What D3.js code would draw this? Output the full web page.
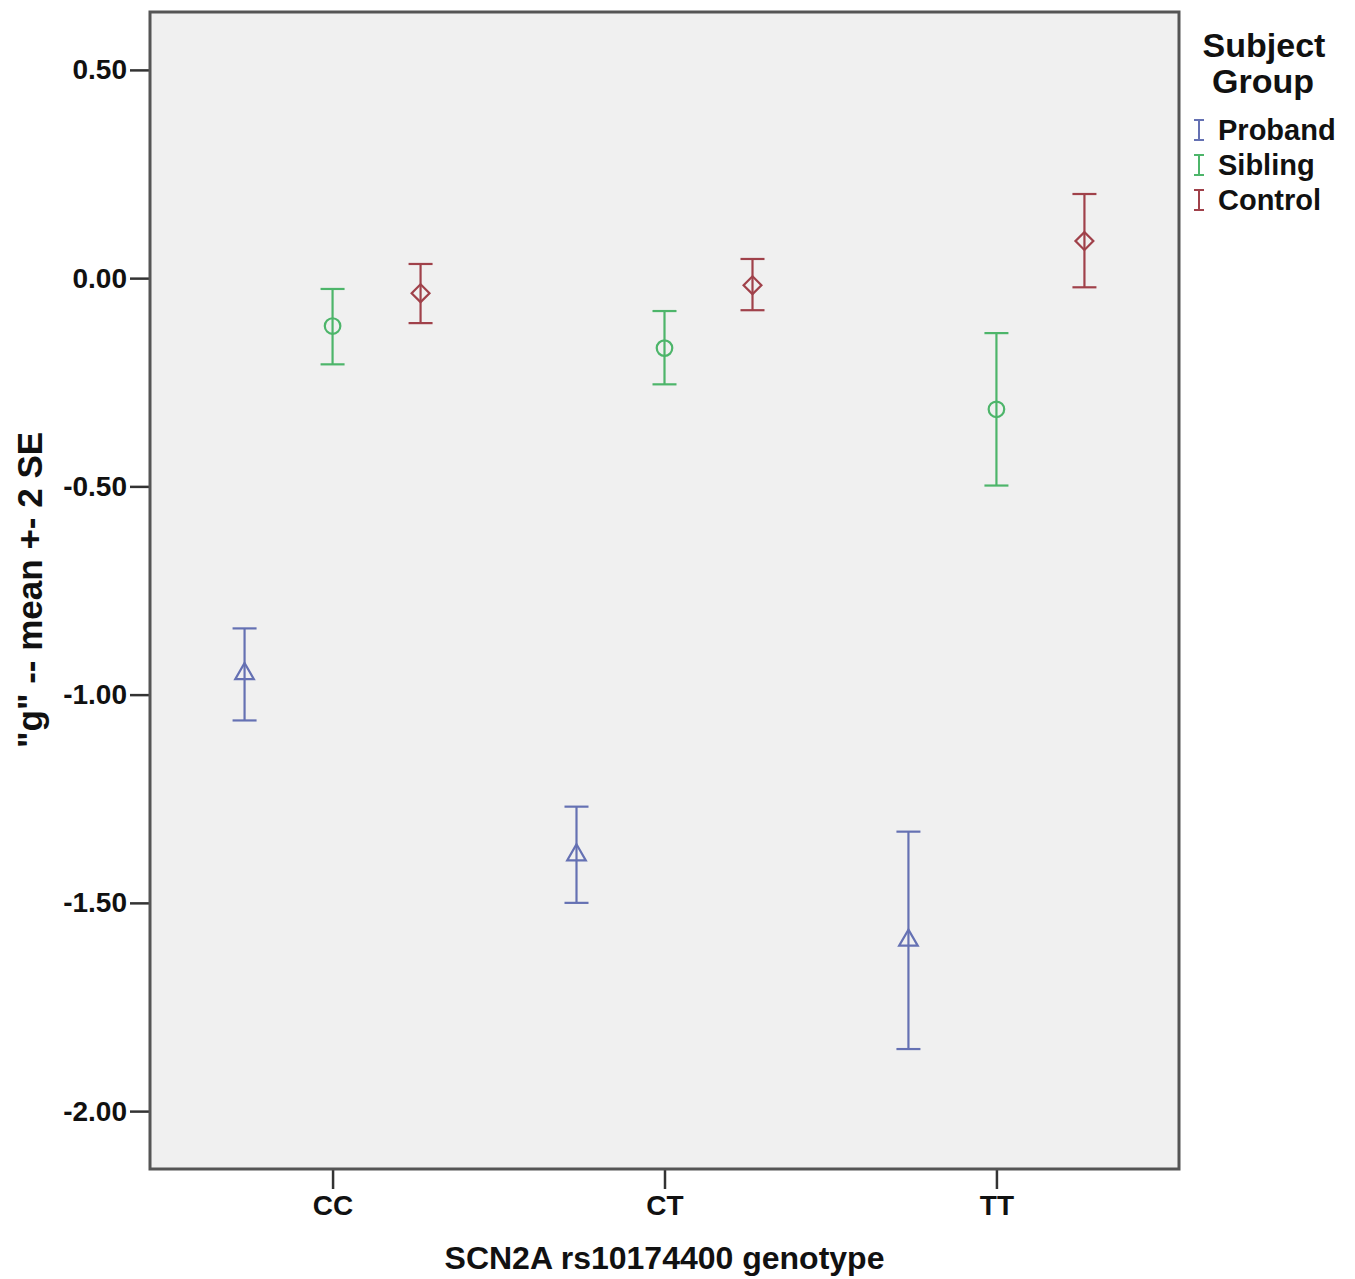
<!DOCTYPE html>
<html>
<head>
<meta charset="utf-8">
<script src="https://cdn.jsdelivr.net/npm/d3@7"></script>
<style>
  body { margin: 0; background: #fff; }
  text { font-family: "Liberation Sans", Arial, sans-serif; font-weight: bold; fill: #111; }
</style>
</head>
<body>
<div id="chart"></div>
<script>
// genotypes on the x axis, subject groups inside each genotype
const genotypes = ["CC", "CT", "TT"]
const groups = ["Proband", "Sibling", "Control"]

// mean and mean +- 2 SE (order follows genotypes)
const probandMean = [-0.95, -1.385, -1.59]
const probandLow = [-1.062, -1.50, -1.851]
const probandHigh = [-0.841, -1.269, -1.329]

const siblingMean = [-0.115, -0.168, -0.315]
const siblingLow = [-0.207, -0.255, -0.498]
const siblingHigh = [-0.026, -0.079, -0.132]

const controlMean = [-0.036, -0.017, 0.089]
const controlLow = [-0.108, -0.077, -0.022]
const controlHigh = [0.034, 0.046, 0.202]

const yTicks = [0.5, 0, -0.5, -1, -1.5, -2]

// table built from the arrays above
let points = []
const series = {
    Proband: [probandMean, probandLow, probandHigh],
    Sibling: [siblingMean, siblingLow, siblingHigh],
    Control: [controlMean, controlLow, controlHigh]
}
groups.forEach(g => {
    genotypes.forEach((gt, i) => {
        points.push({ group: g, genotype: gt, mean: series[g][0][i], low: series[g][1][i], high: series[g][2][i] })
    })
})

let width = 1355, height = 1279
let margin = { left: 150, top: 12, right: 176, bottom: 110 }
let plotW = width - margin.left - margin.right
let plotH = height - margin.top - margin.bottom

let color = d3.scaleOrdinal().domain(groups).range(["#6571b3", "#4db56a", "#a0414a"])

let svg = d3.select("#chart").append("svg")
    .attr("width", width)
    .attr("height", height)

let xScale = d3.scalePoint()
    .domain(genotypes)
    .range([0, plotW])
    .padding(0.55)

let offset = d3.scalePoint()
    .domain(groups)
    .range([-88, 88])

let yScale = d3.scaleLinear()
    .domain([-2.139, 0.639])
    .range([plotH, 0])

let g = svg.append("g")
    .attr("transform", `translate(${margin.left},${margin.top})`)

// plot background
g.append("rect")
    .attr("width", plotW)
    .attr("height", plotH)
    .attr("fill", "#f0f0f0")

// axes
let yAxis = d3.axisLeft(yScale)
    .tickValues(yTicks)
    .tickSize(20)
    .tickSizeOuter(0)
    .tickPadding(3)
    .tickFormat(d => d.toFixed(2))

let xAxis = d3.axisBottom(xScale)
    .tickSize(20)
    .tickSizeOuter(0)
    .tickPadding(6)

let yg = g.append("g").call(yAxis)
let xg = g.append("g").attr("transform", `translate(0,${plotH})`).call(xAxis)

;[yg, xg].forEach(a => {
    a.select(".domain").remove()
    a.selectAll(".tick line").attr("stroke", "#333").attr("stroke-width", 2.5)
    a.selectAll(".tick text").style("font-size", "28px").attr("fill", "#111")
})

// frame
g.append("rect")
    .attr("width", plotW)
    .attr("height", plotH)
    .attr("fill", "none")
    .attr("stroke", "#555")
    .attr("stroke-width", 3)

// error bars
let bars = g.append("g").selectAll("g")
    .data(points).enter()
    .append("g")
    .attr("transform", d => `translate(${xScale(d.genotype) + offset(d.group)},0)`)
    .attr("stroke", d => color(d.group))
    .attr("stroke-width", 2.2)
    .attr("fill", "none")

bars.append("line")
    .attr("y1", d => yScale(d.low))
    .attr("y2", d => yScale(d.high))

bars.append("line")
    .attr("x1", -12).attr("x2", 12)
    .attr("y1", d => yScale(d.high)).attr("y2", d => yScale(d.high))

bars.append("line")
    .attr("x1", -12).attr("x2", 12)
    .attr("y1", d => yScale(d.low)).attr("y2", d => yScale(d.low))

// hollow markers: triangle, circle, diamond
let shapes = { Proband: d3.symbolTriangle, Sibling: d3.symbolCircle, Control: d3.symbolSquare }
let sizes = { Proband: 150, Sibling: 190, Control: 160 }

bars.append("path")
    .attr("d", d => d3.symbol().type(shapes[d.group]).size(sizes[d.group])())
    .attr("transform", d => `translate(0,${yScale(d.mean)})` + (d.group == "Control" ? " rotate(45)" : ""))

// axis titles
svg.append("text")
    .attr("text-anchor", "middle")
    .attr("x", margin.left + xScale("CT"))
    .attr("y", 1269)
    .style("font-size", "32px")
    .text("SCN2A rs10174400 genotype")

svg.append("text")
    .attr("text-anchor", "middle")
    .attr("transform", "translate(42,590) rotate(-90)")
    .style("font-size", "35px")
    .text('"g" -- mean +- 2 SE')

// legend
let legend = svg.append("g").attr("transform", "translate(1195,0)")

legend.append("text")
    .attr("text-anchor", "middle")
    .attr("x", 69).attr("y", 57)
    .style("font-size", "34px")
    .text("Subject")

legend.append("text")
    .attr("text-anchor", "middle")
    .attr("x", 68).attr("y", 93)
    .style("font-size", "34px")
    .text("Group")

let items = legend.selectAll(".item")
    .data(groups).enter()
    .append("g")
    .attr("class", "item")
    .attr("transform", (d, i) => `translate(0,${130 + i * 35})`)

items.append("line")
    .attr("x1", 4).attr("x2", 4).attr("y1", -10).attr("y2", 10)
    .attr("stroke", d => color(d)).attr("stroke-width", 2)
items.append("line")
    .attr("x1", -1).attr("x2", 9).attr("y1", -10).attr("y2", -10)
    .attr("stroke", d => color(d)).attr("stroke-width", 2)
items.append("line")
    .attr("x1", -1).attr("x2", 9).attr("y1", 10).attr("y2", 10)
    .attr("stroke", d => color(d)).attr("stroke-width", 2)

items.append("text")
    .attr("x", 23)
    .attr("y", 10)
    .style("font-size", "29px")
    .text(d => d)
</script>
</body>
</html>
